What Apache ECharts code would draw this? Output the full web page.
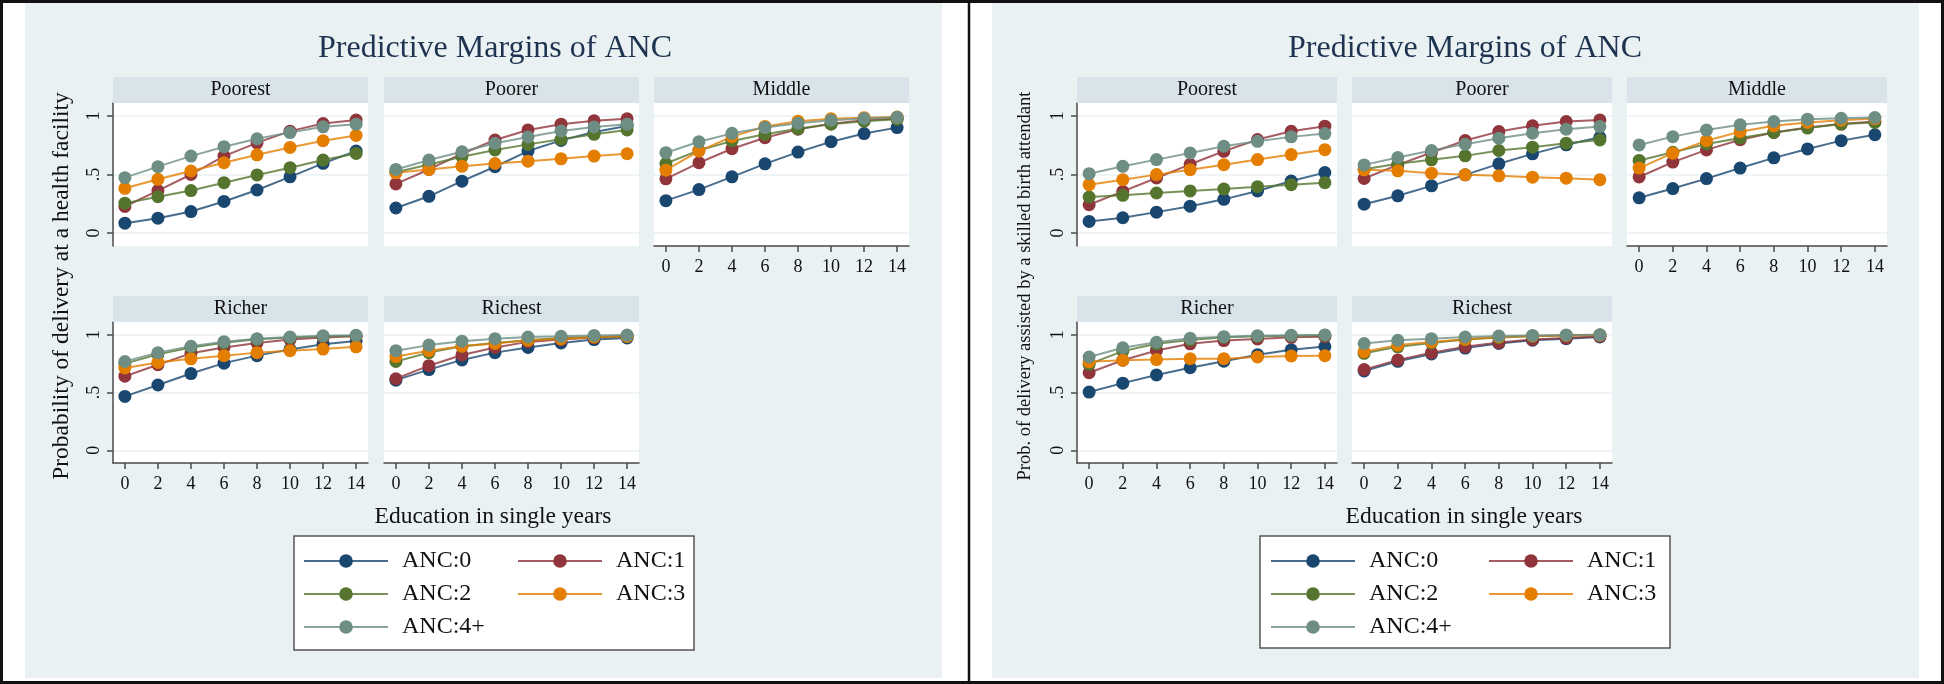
<!DOCTYPE html>
<html>
<head>
<meta charset="utf-8">
<script src="https://cdn.jsdelivr.net/npm/echarts@6/dist/echarts.min.js"></script>
<style>
  html, body { margin: 0; padding: 0; background: #fff; }
  #chart { width: 1944px; height: 684px; }
</style>
</head>
<body>
<div id="chart"></div>
<script>
// x categories (years of education) and facets
const educYears = [0, 2, 4, 6, 8, 10, 12, 14];
const ancLevels = ['ANC:0', 'ANC:1', 'ANC:2', 'ANC:3', 'ANC:4+'];
const wealthGroups = ['Poorest', 'Poorer', 'Middle', 'Richer', 'Richest'];
const yTickValues = [0, 0.5, 1];

// left panel: probability of delivery at a health facility (rows = ANC:0 .. ANC:4+)
const facPoorest = [
  [0.085, 0.127, 0.184, 0.27, 0.368, 0.48, 0.595, 0.70],
  [0.227, 0.363, 0.50, 0.657, 0.77, 0.87, 0.935, 0.965],
  [0.255, 0.31, 0.363, 0.43, 0.496, 0.558, 0.623, 0.68],
  [0.382, 0.459, 0.53, 0.60, 0.668, 0.731, 0.788, 0.833],
  [0.473, 0.567, 0.657, 0.737, 0.805, 0.858, 0.907, 0.929],
];
const facPoorer = [
  [0.214, 0.314, 0.443, 0.566, 0.70, 0.791, 0.863, 0.914],
  [0.42, 0.543, 0.677, 0.794, 0.88, 0.929, 0.958, 0.975],
  [0.52, 0.586, 0.651, 0.709, 0.757, 0.80, 0.843, 0.88],
  [0.514, 0.543, 0.571, 0.594, 0.614, 0.634, 0.657, 0.677],
  [0.543, 0.623, 0.694, 0.766, 0.82, 0.871, 0.906, 0.929],
];
const facMiddle = [
  [0.277, 0.371, 0.48, 0.591, 0.691, 0.78, 0.849, 0.90],
  [0.463, 0.60, 0.72, 0.814, 0.886, 0.934, 0.962, 0.978],
  [0.594, 0.706, 0.786, 0.843, 0.891, 0.929, 0.955, 0.972],
  [0.537, 0.70, 0.823, 0.91, 0.955, 0.975, 0.985, 0.99],
  [0.686, 0.78, 0.851, 0.90, 0.937, 0.963, 0.978, 0.988],
];
const facRicher = [
  [0.466, 0.565, 0.664, 0.754, 0.819, 0.873, 0.918, 0.946],
  [0.641, 0.74, 0.839, 0.89, 0.929, 0.958, 0.975, 0.986],
  [0.75, 0.83, 0.89, 0.93, 0.96, 0.975, 0.985, 0.99],
  [0.712, 0.76, 0.791, 0.819, 0.845, 0.862, 0.876, 0.895],
  [0.768, 0.845, 0.90, 0.94, 0.965, 0.98, 0.99, 0.995],
];
const facRichest = [
  [0.607, 0.698, 0.782, 0.845, 0.89, 0.929, 0.958, 0.972],
  [0.619, 0.732, 0.825, 0.89, 0.938, 0.958, 0.975, 0.986],
  [0.768, 0.845, 0.90, 0.929, 0.952, 0.972, 0.98, 0.986],
  [0.811, 0.862, 0.90, 0.924, 0.952, 0.963, 0.98, 0.986],
  [0.862, 0.91, 0.944, 0.966, 0.98, 0.986, 0.994, 0.997],
];

// right panel: probability of delivery assisted by a skilled birth attendant
const sbaPoorest = [
  [0.10, 0.131, 0.179, 0.23, 0.288, 0.359, 0.444, 0.516],
  [0.242, 0.356, 0.47, 0.587, 0.698, 0.798, 0.869, 0.912],
  [0.308, 0.322, 0.342, 0.36, 0.376, 0.396, 0.413, 0.43],
  [0.413, 0.456, 0.499, 0.541, 0.584, 0.627, 0.67, 0.712],
  [0.507, 0.57, 0.627, 0.684, 0.741, 0.783, 0.821, 0.849],
];
const sbaPoorer = [
  [0.247, 0.318, 0.403, 0.497, 0.591, 0.676, 0.753, 0.818],
  [0.466, 0.582, 0.688, 0.79, 0.866, 0.915, 0.952, 0.966],
  [0.545, 0.591, 0.625, 0.659, 0.705, 0.733, 0.767, 0.795],
  [0.54, 0.531, 0.511, 0.497, 0.489, 0.477, 0.469, 0.455],
  [0.582, 0.645, 0.705, 0.759, 0.81, 0.852, 0.886, 0.909],
];
const sbaMiddle = [
  [0.301, 0.38, 0.465, 0.555, 0.642, 0.718, 0.789, 0.839],
  [0.479, 0.606, 0.71, 0.797, 0.859, 0.901, 0.93, 0.952],
  [0.62, 0.69, 0.76, 0.811, 0.859, 0.896, 0.93, 0.944],
  [0.555, 0.682, 0.789, 0.865, 0.915, 0.944, 0.963, 0.977],
  [0.752, 0.823, 0.879, 0.924, 0.952, 0.972, 0.98, 0.986],
];
const sbaRicher = [
  [0.504, 0.581, 0.652, 0.714, 0.771, 0.827, 0.87, 0.898],
  [0.671, 0.779, 0.864, 0.921, 0.949, 0.963, 0.977, 0.983],
  [0.745, 0.858, 0.921, 0.955, 0.977, 0.986, 0.992, 0.995],
  [0.765, 0.779, 0.785, 0.793, 0.793, 0.807, 0.816, 0.819],
  [0.807, 0.887, 0.935, 0.969, 0.983, 0.992, 0.995, 0.998],
];
const sbaRichest = [
  [0.686, 0.77, 0.833, 0.884, 0.924, 0.952, 0.966, 0.98],
  [0.698, 0.782, 0.845, 0.895, 0.932, 0.958, 0.972, 0.986],
  [0.839, 0.895, 0.929, 0.958, 0.975, 0.986, 0.994, 0.997],
  [0.853, 0.91, 0.938, 0.96, 0.98, 0.989, 0.994, 0.997],
  [0.924, 0.952, 0.966, 0.98, 0.989, 0.994, 0.997, 0.999],
];

// stata s2color palette
const ancColors = ['#1a476f', '#90353b', '#55752f', '#e37e00', '#6e8e84'];
const FONT = '"Liberation Serif", "Times New Roman", serif';
const PANEL_BG = '#e9f1f3';
const STRIP_BG = '#d8e4ea';

const panels = [
  {
    groups: [facPoorest, facPoorer, facMiddle, facRicher, facRichest],
    cols: [113, 384, 654], plotW: 255,
    bg: [25, 3, 917, 675], titleX: 495,
    yTitle: 'Probability of delivery at a health facility', yTitleX: 62, yTitleSize: 23.5,
    xTitleX: 493,
    legendBox: [294, 536, 400, 114], legendCols: [303, 517],
  },
  {
    groups: [sbaPoorest, sbaPoorer, sbaMiddle, sbaRicher, sbaRichest],
    cols: [1077, 1352, 1627], plotW: 260,
    bg: [992, 3, 927, 675], titleX: 1465,
    yTitle: 'Prob. of delivery assisted by a skilled birth attendant', yTitleX: 1025, yTitleSize: 18.5,
    xTitleX: 1464,
    legendBox: [1260, 536, 410, 112], legendCols: [1270, 1488],
  },
];
const rowTops = [103, 322];
const rowHeights = [143, 141];
const legendRows = [561, 594, 627];

const option = {
  animation: false,
  backgroundColor: '#fff',
  grid: [], xAxis: [], yAxis: [], series: [], legend: [], graphic: [],
};

panels.forEach((p) => {
  const [bx, by, bw, bh] = p.bg;
  option.graphic.push({ type: 'rect', z: -5, shape: { x: bx, y: by, width: bw, height: bh }, style: { fill: PANEL_BG } });
  option.graphic.push({
    type: 'text', z: 50,
    style: { text: 'Predictive Margins of ANC', x: p.titleX, y: 49, textAlign: 'center', textVerticalAlign: 'middle',
      font: `32px ${FONT}`, fill: '#1e3350' },
  });
  option.graphic.push({
    type: 'text', z: 50, x: p.yTitleX, y: 286, rotation: Math.PI / 2,
    style: { text: p.yTitle, x: 0, y: 0, textAlign: 'center', textVerticalAlign: 'middle',
      font: `${p.yTitleSize}px ${FONT}`, fill: '#111' },
  });
  option.graphic.push({
    type: 'text', z: 50,
    style: { text: 'Education in single years', x: p.xTitleX, y: 517, textAlign: 'center', textVerticalAlign: 'middle',
      font: `23.5px ${FONT}`, fill: '#111' },
  });

  p.groups.forEach((rows, gi) => {
    const col = gi % 3, row = Math.floor(gi / 3);
    const idx = option.grid.length;
    const left = p.cols[col], top = rowTops[row], h = rowHeights[row];
    const hasX = row === 1 || col === 2;
    const hasY = col === 0;

    option.grid.push({ left, top, width: p.plotW, height: h, show: true, backgroundColor: '#fff', borderWidth: 0 });

    // facet strip
    option.graphic.push({ type: 'rect', z: 5, shape: { x: left, y: top - 26, width: p.plotW, height: 26 }, style: { fill: STRIP_BG } });
    option.graphic.push({
      type: 'text', z: 6,
      style: { text: wealthGroups[gi], x: left + p.plotW / 2, y: top - 13, textAlign: 'center', textVerticalAlign: 'middle',
        font: `20px ${FONT}`, fill: '#111' },
    });

    option.xAxis.push({
      type: 'value', gridIndex: idx, min: -0.72, max: 14.72,
      axisLine: { show: hasX, onZero: false, lineStyle: { color: '#4a4a4a', width: 1.5 } },
      axisTick: { show: hasX, customValues: educYears, length: 6, lineStyle: { color: '#4a4a4a', width: 1.5 } },
      axisLabel: { show: hasX, customValues: educYears, margin: 12, fontSize: 18, fontFamily: FONT, color: '#111' },
      splitLine: { show: false },
    });
    option.yAxis.push({
      type: 'value', gridIndex: idx, min: -0.11, max: 1.11,
      axisLine: { show: hasY, onZero: false, lineStyle: { color: '#4a4a4a', width: 1.5 } },
      axisTick: { show: hasY, customValues: yTickValues, length: 6, lineStyle: { color: '#4a4a4a', width: 1.5 } },
      axisLabel: {
        show: hasY, customValues: yTickValues, rotate: 90, margin: 10, fontSize: 18, fontFamily: FONT, color: '#111',
        formatter: (v) => (v === 0.5 ? '.5' : String(v)),
      },
      splitLine: { show: true, lineStyle: { color: '#eaf2f3', width: 1.5 } },
    });

    rows.forEach((vals, si) => {
      option.series.push({
        type: 'line', name: ancLevels[si], xAxisIndex: idx, yAxisIndex: idx,
        data: educYears.map((x, k) => [x, vals[k]]),
        symbol: 'circle', symbolSize: 13,
        itemStyle: { color: ancColors[si] },
        lineStyle: { color: ancColors[si], width: 2, opacity: 0.8 },
        emphasis: { disabled: true },
      });
    });
  });

  // legend box + 5 separately placed items (2 columns)
  const [lx, ly, lw, lh] = p.legendBox;
  option.graphic.push({ type: 'rect', z: 1, shape: { x: lx, y: ly, width: lw, height: lh },
    style: { fill: '#fff', stroke: '#555', lineWidth: 1.5 } });
  ancLevels.forEach((name, i) => {
    option.legend.push({
      data: [name], selectedMode: false, orient: 'horizontal', padding: 0,
      left: p.legendCols[i % 2], top: legendRows[Math.floor(i / 2)] - 12,
      itemWidth: 84, itemHeight: 17,
      textStyle: { fontFamily: FONT, fontSize: 24, color: '#111', padding: [0, 0, 0, 9] },
    });
  });
});

// outer frame and divider
option.graphic.push({ type: 'rect', z: 100, shape: { x: 1.5, y: 1.5, width: 1941, height: 681 },
  style: { fill: null, stroke: '#111', lineWidth: 3 } });
option.graphic.push({ type: 'line', z: 100, shape: { x1: 969, y1: 0, x2: 969, y2: 684 },
  style: { stroke: '#111', lineWidth: 2.5 } });

const chart = echarts.init(document.getElementById('chart'), null, { renderer: 'canvas' });
chart.setOption(option);
</script>
</body>
</html>
